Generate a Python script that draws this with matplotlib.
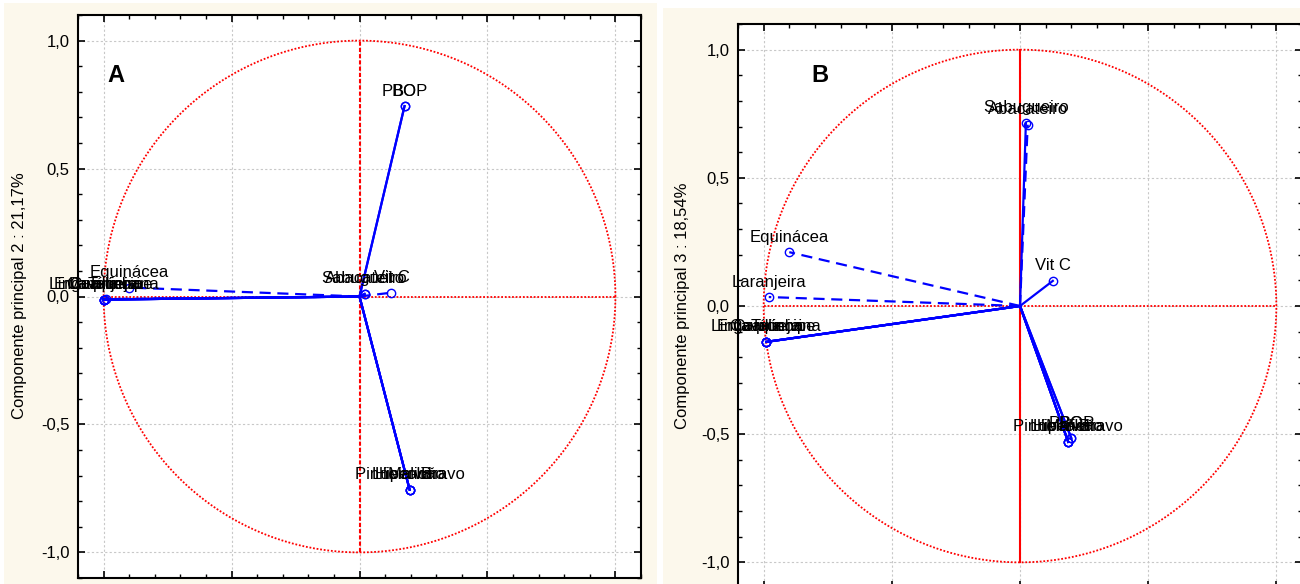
import numpy as np
import matplotlib
matplotlib.use("Agg")
import matplotlib.pyplot as plt
from matplotlib.patches import Rectangle
from matplotlib.ticker import MultipleLocator, FuncFormatter

plt.rcParams['font.family'] = ['Liberation Sans', 'DejaVu Sans']

# panel A : componente 1 x componente 2
names_a = ["Língua-cervina", "Cavalinha", "Tília", "Erva-príncipe", "Carqueja", "Laranjeira",
           "Equinácea", "PBOP", "BO", "Sabugueiro", "Abacateiro", "Vit C",
           "Pinheiro Bravo", "Malva", "Hipericão", "Lúcia-lima"]
pc1_a = [-1.00, -1.00, -1.00, -1.00, -1.00, -0.99,
         -0.90, 0.176, 0.176, 0.02, 0.02, 0.125,
         0.196, 0.196, 0.196, 0.196]
pc2_a = [-0.012, -0.012, -0.012, -0.012, -0.012, -0.010,
         0.035, 0.744, 0.744, 0.010, 0.010, 0.015,
         -0.755, -0.755, -0.755, -0.755]
dashed_a = [False, False, False, False, False, True,
            True, False, False, False, False, True,
            False, False, False, False]

# panel B : componente 1 x componente 3
names_b = ["Língua-cervina", "Cavalinha", "Tília", "Erva-príncipe", "Carqueja", "Laranjeira",
           "Equinácea", "PBOP", "BO", "Sabugueiro", "Abacateiro", "Vit C",
           "Pinheiro Bravo", "Malva", "Hipericão", "Lúcia-lima"]
pc1_b = [-0.99, -0.99, -0.99, -0.99, -0.99, -0.98,
         -0.90, 0.20, 0.20, 0.023, 0.03, 0.128,
         0.188, 0.188, 0.188, 0.188]
pc3_b = [-0.14, -0.14, -0.14, -0.14, -0.14, 0.035,
         0.21, -0.515, -0.515, 0.715, 0.707, 0.098,
         -0.53, -0.53, -0.53, -0.53]
dashed_b = [False, False, False, False, False, True,
            True, False, False, False, True, False,
            False, False, False, False]

W, H = 1300, 584
fig = plt.figure(figsize=(13, 5.84), dpi=100, facecolor='white')

cream = '#fcf8ec'
fig.patches.append(Rectangle((4 / W, 0), 653 / W, 581 / H, transform=fig.transFigure,
                             facecolor=cream, edgecolor='none', zorder=-10))
fig.patches.append(Rectangle((663 / W, 0), 637 / W, 576 / H, transform=fig.transFigure,
                             facecolor=cream, edgecolor='none', zorder=-10))

ax_a = fig.add_axes([78 / W, 6 / H, 563 / W, 563 / H])
ax_b = fig.add_axes([738 / W, -4 / H, 564 / W, 564 / H])

comma = FuncFormatter(lambda v, p: ("%.1f" % v).replace('.', ','))
t = np.linspace(0, 2 * np.pi, 400)


def draw_panel(ax, names, xs, ys, dashed, letter, letter_xy, vline_style):
    ax.set_xlim(-1.1, 1.1)
    ax.set_ylim(-1.1, 1.1)
    ax.set_facecolor('white')
    ax.xaxis.set_major_locator(MultipleLocator(0.5))
    ax.yaxis.set_major_locator(MultipleLocator(0.5))
    ax.xaxis.set_minor_locator(MultipleLocator(0.1))
    ax.yaxis.set_minor_locator(MultipleLocator(0.1))
    ax.yaxis.set_major_formatter(comma)
    ax.tick_params(which='both', direction='in', top=True, right=True,
                   labelbottom=False, labelsize=12, pad=6)
    ax.tick_params(which='major', length=5, width=1.2)
    ax.tick_params(which='minor', length=3, width=1)
    ax.grid(True, which='major', color='#c8c8c8', linestyle=(0, (2, 2)), linewidth=0.8)
    for s in ax.spines.values():
        s.set_linewidth(1.5)

    ax.plot(np.cos(t), np.sin(t), color='red', linestyle=(0, (1, 1)), linewidth=1.3, zorder=2)
    ax.plot([-1, 1], [0, 0], color='red', linestyle=(0, (1, 1)), linewidth=1.3, zorder=2)
    ax.plot([0, 0], [-1, 1], color='red', linestyle=vline_style, linewidth=1.5, zorder=2)

    for name, x, y, d in zip(names, xs, ys, dashed):
        ax.plot([0, x], [0, y], color='blue', linewidth=1.6,
                linestyle=(0, (5, 3)) if d else '-', zorder=3)
        ax.plot(x, y, 'o', markerfacecolor='none', markeredgecolor='blue',
                markersize=6, markeredgewidth=1, zorder=4)
        ax.annotate(name, (x, y), xytext=(0, 15), textcoords='offset pixels',
                    ha='center', va='center', fontsize=12, color='black', zorder=5)

    ax.text(letter_xy[0], letter_xy[1], letter, fontsize=17, fontweight='bold',
            ha='center', va='center')


draw_panel(ax_a, names_a, pc1_a, pc2_a, dashed_a, 'A', (-0.95, 0.865), (0, (2, 1)))
draw_panel(ax_b, names_b, pc1_b, pc3_b, dashed_b, 'B', (-0.78, 0.90), '-')

fig.text(20 / W, 1 - 296 / H, 'Componente principal 2 : 21,17%', rotation=90,
         ha='center', va='center', fontsize=12)
fig.text(682 / W, 1 - 306 / H, 'Componente principal 3 : 18,54%', rotation=90,
         ha='center', va='center', fontsize=12)

fig.savefig('out.png', dpi=100, facecolor='white')
